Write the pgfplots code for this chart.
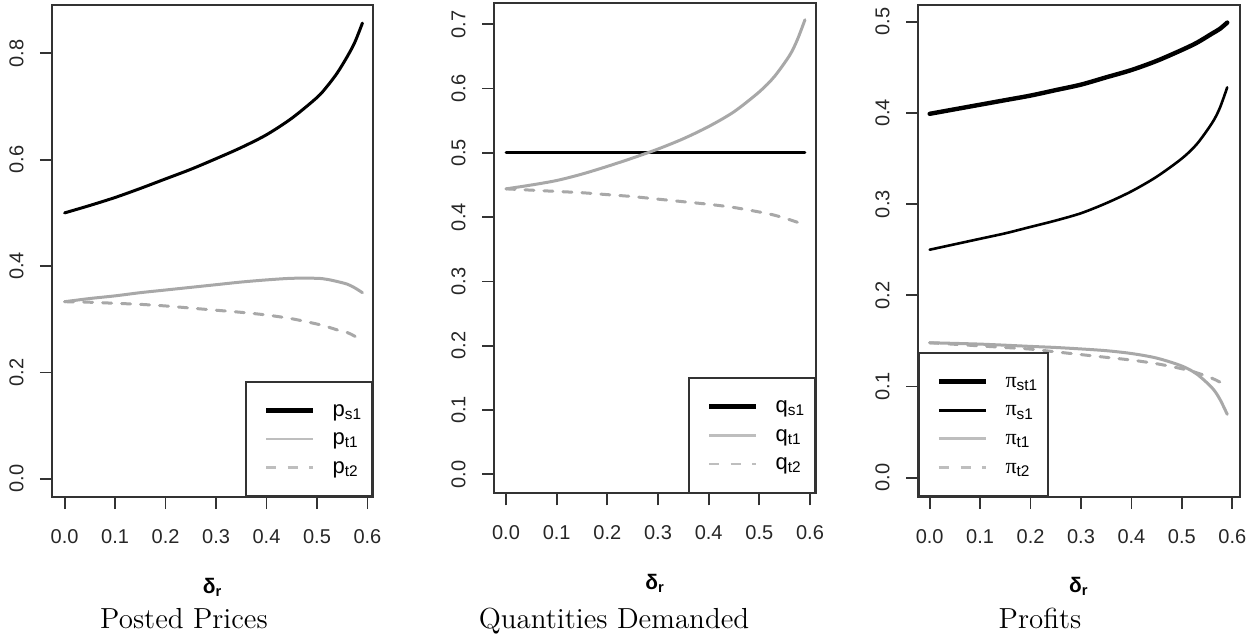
\documentclass[border=0pt]{standalone}
\usepackage{fontspec}
\usepackage{pgfplots}
\pgfplotsset{compat=1.18}
\newfontfamily\arial{Liberation Sans}
\newfontfamily\tnr{Liberation Serif}
\definecolor{rgrey}{HTML}{A8A8A8}
\definecolor{lgrey}{HTML}{BEBEBE}
\definecolor{frame}{HTML}{333333}

\pgfplotstableread{
d      ps1    pt1    pt2
0.00   0.500  0.333  0.333
0.05   0.514  0.339  0.332
0.10   0.529  0.344  0.330
0.15   0.546  0.350  0.328
0.20   0.564  0.355  0.325
0.25   0.582  0.360  0.321
0.30   0.602  0.365  0.317
0.35   0.623  0.370  0.313
0.40   0.647  0.374  0.308
0.45   0.678  0.377  0.301
0.50   0.717  0.377  0.291
0.52   0.738  0.375  0.286
0.54   0.763  0.371  0.280
0.56   0.794  0.366  0.275
0.575  0.821  0.359  0.268
0.59   0.857  0.350  0.258
}\prices

\pgfplotstableread{
d      qs1    qt1    qt2
0.00   0.500  0.444  0.444
0.05   0.500  0.450  0.442
0.10   0.500  0.457  0.440
0.15   0.500  0.467  0.438
0.20   0.500  0.479  0.435
0.25   0.500  0.492  0.432
0.30   0.500  0.506  0.428
0.35   0.500  0.522  0.424
0.40   0.500  0.541  0.420
0.45   0.500  0.564  0.415
0.50   0.500  0.595  0.408
0.53   0.500  0.619  0.403
0.56   0.500  0.652  0.396
0.575  0.500  0.676  0.392
0.59   0.500  0.707  0.387
}\quant

\pgfplotstableread{
d      pist1  pis1   pit1    pit2
0.00   0.399  0.250  0.148   0.148
0.05   0.404  0.256  0.1473  0.1463
0.10   0.409  0.262  0.1465  0.1445
0.15   0.414  0.268  0.1453  0.1428
0.20   0.419  0.275  0.144   0.141
0.25   0.425  0.282  0.1428  0.138
0.30   0.431  0.290  0.1412  0.135
0.35   0.439  0.301  0.1393  0.132
0.40   0.447  0.314  0.1362  0.129
0.45   0.457  0.330  0.1312  0.125
0.50   0.469  0.350  0.1225  0.1195
0.53   0.477  0.366  0.1135  0.115
0.56   0.487  0.389  0.0985  0.109
0.575  0.492  0.405  0.0865  0.105
0.59   0.499  0.428  0.0695  0.1005
}\profits

\pgfplotsset{
  rpanel/.style={
    scale only axis,
    axis line style={frame, line width=0.9pt},
    tick align=outside,
    major tick length=6pt,
    every tick/.style={frame, line width=0.9pt},
    xtick pos=left, ytick pos=left,
    xtick={0,0.1,0.2,0.3,0.4,0.5,0.6},
    xticklabels={0.0,0.1,0.2,0.3,0.4,0.5,0.6},
    ticklabel style={font=\arial\fontsize{10}{12}\selectfont, inner sep=0pt, text=black!85},
    xticklabel style={anchor=north},
    yticklabel style={rotate=90, anchor=south},
    xticklabel shift=10pt,
    yticklabel shift=8pt,
    xlabel={\textbf{δ\textsubscript{r}}},
    xlabel style={at={(axis description cs:0.5,0)}, anchor=base, yshift=-48pt, font=\arial\fontsize{10.5}{12}\selectfont},
    legend cell align=left,
    legend style={draw=frame, line width=0.9pt, fill=white, inner xsep=5pt, inner ysep=7.1pt, row sep=0pt, column sep=0pt, font=\arial\fontsize{11}{13}\selectfont, nodes={inner sep=0pt, text height=10pt, text depth=4.3pt}},
    legend image code/.code={\path[draw=none, fill=none] (0pt,-0.2pt) rectangle (38.3pt,0.2pt); \draw[#1] (5pt,0pt) -- (28.3pt,0pt);},
  },
  curve/.style={line width=1.5pt, line cap=round, smooth, tension=0.5},
}

\begin{document}
\begin{tikzpicture}
\path[use as bounding box] (0pt,0pt) rectangle (630pt,-318.5pt);

% Panel 1
\begin{axis}[rpanel, at={(26pt,-248.5pt)}, anchor=south west,
  width=160.5pt, height=246pt,
  xmin=-0.025, xmax=0.611, ymin=-0.0343, ymax=0.891,
  ytick={0,0.2,0.4,0.6,0.8}, yticklabels={0.0,0.2,0.4,0.6,0.8},
  legend style={at={(1,0)}, anchor=south east}]
\addplot[curve, black, forget plot] table[x=d, y=ps1] {\prices};
\addplot[curve, rgrey, forget plot] table[x=d, y=pt1] {\prices};
\addplot[curve, rgrey, dash pattern=on 4.5pt off 5pt, forget plot] table[x=d, y=pt2] {\prices};
\addlegendimage{black, line width=2.5pt}
\addlegendentry{p\textsubscript{s1}}
\addlegendimage{lgrey, line width=1.4pt}
\addlegendentry{p\textsubscript{t1}}
\addlegendimage{lgrey, line width=1.4pt, dash pattern=on 5pt off 5.8pt}
\addlegendentry{p\textsubscript{t2}}
\end{axis}

% Panel 2
\begin{axis}[rpanel, at={(247pt,-246.65pt)}, anchor=south west,
  width=161pt, height=245.3pt,
  xmin=-0.0237, xmax=0.6118, ymin=-0.0296, ymax=0.7336,
  ytick={0,0.1,0.2,0.3,0.4,0.5,0.6,0.7}, yticklabels={0.0,0.1,0.2,0.3,0.4,0.5,0.6,0.7},
  legend style={at={(1,0)}, anchor=south east}]
\addplot[curve, black, forget plot] table[x=d, y=qs1] {\quant};
\addplot[curve, rgrey, forget plot] table[x=d, y=qt1] {\quant};
\addplot[curve, rgrey, dash pattern=on 4.5pt off 5pt, forget plot] table[x=d, y=qt2] {\quant};
\addlegendimage{black, line width=2.5pt}
\addlegendentry{q\textsubscript{s1}}
\addlegendimage{lgrey, line width=1.4pt}
\addlegendentry{q\textsubscript{t1}}
\addlegendimage{lgrey, line width=1.4pt, dash pattern=on 5pt off 5.8pt}
\addlegendentry{q\textsubscript{t2}}
\end{axis}

% Panel 3
\begin{axis}[rpanel, at={(459pt,-248.35pt)}, anchor=south west,
  width=160.85pt, height=245.85pt,
  xmin=-0.0232, xmax=0.6147, ymin=-0.0208, ymax=0.5183,
  ytick={0,0.1,0.2,0.3,0.4,0.5}, yticklabels={0.0,0.1,0.2,0.3,0.4,0.5},
  legend style={at={(0,0)}, anchor=south west}]
\addplot[curve, black, line width=2.2pt, forget plot] table[x=d, y=pist1] {\profits};
\addplot[curve, black, line width=1.3pt, forget plot] table[x=d, y=pis1] {\profits};
\addplot[curve, rgrey, forget plot] table[x=d, y=pit1] {\profits};
\addplot[curve, rgrey, dash pattern=on 4.5pt off 5pt, forget plot] table[x=d, y=pit2] {\profits};
\addlegendimage{black, line width=2.9pt}
\addlegendentry{{\tnr π}\textsubscript{st1}}
\addlegendimage{black, line width=1.6pt}
\addlegendentry{{\tnr π}\textsubscript{s1}}
\addlegendimage{lgrey, line width=1.4pt}
\addlegendentry{{\tnr π}\textsubscript{t1}}
\addlegendimage{lgrey, line width=1.4pt, dash pattern=on 5pt off 5.8pt}
\addlegendentry{{\tnr π}\textsubscript{t2}}
\end{axis}

\node[anchor=base, font=\fontsize{14.5}{16}\selectfont] at (92pt,-314.15pt) {Posted Prices};
\node[anchor=base, font=\fontsize{14.5}{16}\selectfont] at (307pt,-314.15pt) {Quantities Demanded};
\node[anchor=base, font=\fontsize{14.5}{16}\selectfont] at (520pt,-314.15pt) {Profits};
\end{tikzpicture}
\end{document}
